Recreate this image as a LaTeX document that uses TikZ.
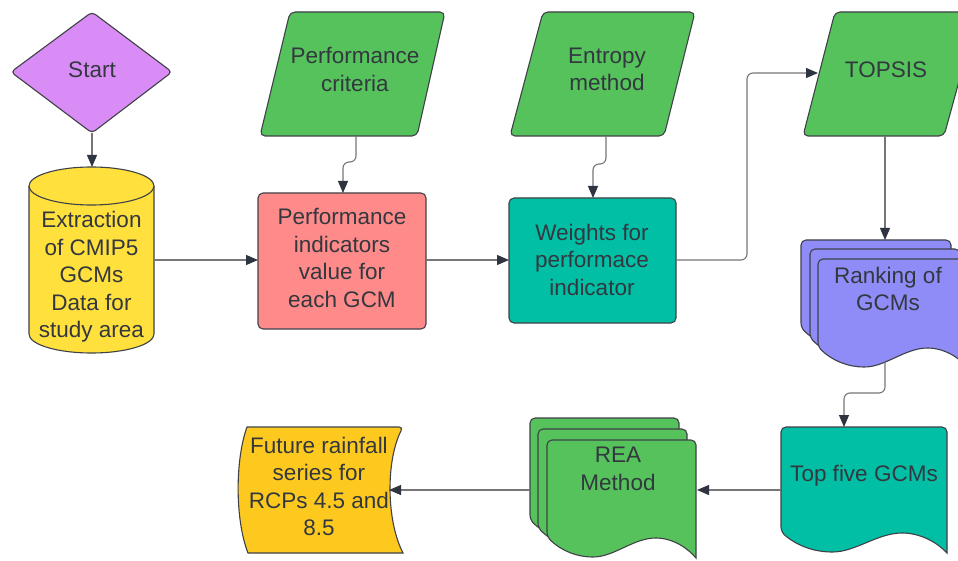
\documentclass[tikz,border=0pt]{standalone}
\usepackage{fontspec}
\setmainfont{Liberation Sans}
\usetikzlibrary{arrows.meta}
\definecolor{edgec}{HTML}{3F4148}
\definecolor{linec}{HTML}{767676}
\definecolor{tipc}{HTML}{2E3440}
\definecolor{txtc}{HTML}{33383F}
\definecolor{purp}{HTML}{DA8CF6}
\definecolor{yel}{HTML}{FFE03C}
\definecolor{pinkc}{HTML}{FF8A8A}
\definecolor{tealc}{HTML}{00BFA5}
\definecolor{grn}{HTML}{55C25C}
\definecolor{peri}{HTML}{8F8CF7}
\definecolor{gold}{HTML}{FEC91F}
% document shape: fill, x0, top, x1, left-bottom y
\newcommand{\docshape}[5]{%
\draw[shapeline, fill=#1, rounded corners=5pt] ({#4},{#5+21}) -- (#4,#3) -- (#2,#3) -- (#2,#5)
 [sharp corners] .. controls ({#2+0.1*(#4-#2)},{#5+14}) and ({#2+0.2*(#4-#2)},{#5+20}) .. ({#2+0.31*(#4-#2)},{#5+20})
 .. controls ({#2+0.45*(#4-#2)},{#5+20}) and ({#2+0.58*(#4-#2)},{#5+1}) .. ({#2+0.73*(#4-#2)},{#5+1})
 .. controls ({#2+0.85*(#4-#2)},{#5+1}) and ({#2+0.95*(#4-#2)},{#5+12}) .. ({#4},{#5+21}) -- cycle;}
\begin{document}
\begin{tikzpicture}[x=1pt,y=-1pt,
 shapeline/.style={draw=edgec, line width=1.1pt},
 txt/.style={text=txtc, font=\fontsize{22.5}{27.5}\selectfont, align=center, inner sep=0pt},
 conn/.style={draw=linec, line width=1.1pt, -{Triangle[length=12pt,width=10pt,color=tipc]}}]
\clip (0,0) rectangle (958,561);
\fill[white] (0,0) rectangle (958,561);

% Start diamond
\draw[shapeline, fill=purp, rounded corners=4pt] (92,12) -- (172,72) -- (92,133) -- (11,72) -- cycle;
\node[txt] (start) at (92,70) {Start};

% Cylinder
\draw[shapeline, fill=yel] (29,186) -- (29,334) .. controls (29,344.5) and (57,353) .. (91.5,353)
  .. controls (126,353) and (154,344.5) .. (154,334) -- (154,186);
\draw[shapeline, fill=yel] (91.5,186) ellipse [x radius=62.5, y radius=19];
\node[txt] (extract) at (91.5,277) {Extraction\\of CMIP5\\GCMs\\Data for\\study area};

% Performance criteria
\draw[shapeline, fill=grn, rounded corners=5pt] (290,12) -- (445,12) -- (417,136) -- (260,136) -- cycle;
\node[txt] (perfcrit) at (355,69.5) {Performance\\criteria};

% Pink box
\draw[shapeline, fill=pinkc, rounded corners=5pt] (258,193) rectangle (426,329);
\node[txt] (perfind) at (342,258) {Performance\\indicators\\value for\\each GCM};

% Entropy method
\draw[shapeline, fill=grn, rounded corners=5pt] (543,12) -- (695,12) -- (664,136) -- (510,136) -- cycle;
\node[txt] (entropy) at (607,69.5) {Entropy\\method};

% Teal box
\draw[shapeline, fill=tealc, rounded corners=5pt] (509,198) rectangle (676,323);
\node[txt] (weights) at (592,259.5) {Weights for\\performace\\indicator};

% TOPSIS
\draw[shapeline, fill=grn, rounded corners=5pt] (835,12) -- (978,12) -- (944,136) -- (803,136) -- cycle;
\node[txt] (topsis) at (886,70) {TOPSIS};

% Ranking stack
\docshape{peri}{801}{240}{951}{328}
\docshape{peri}{810}{249}{960}{338}
\docshape{peri}{818}{259}{968}{347}
\node[txt] (ranking) at (888,289) {Ranking of\\GCMs};

% Top five
\docshape{tealc}{781}{427}{947}{532}
\node[txt] (topfive) at (864,476) {Top five GCMs};

% REA stack
\docshape{grn}{530}{418}{679}{520}
\docshape{grn}{538}{429}{687}{528}
\docshape{grn}{547}{440}{696}{537}
\node[txt] (rea) at (618,469) {REA\\Method};

% Future rainfall
\draw[shapeline, fill=gold, rounded corners=4pt] (247,427) -- (403,427)
  [sharp corners] .. controls (386,460) and (386,520) .. (403,553) -- (248,553)
  .. controls (235,520) and (235,460) .. (247,427) -- cycle;
\node[txt] (future) at (319,486.5) {Future rainfall\\series for\\RCPs 4.5 and\\8.5};

% connection points
\coordinate (startS) at (92,133);
\coordinate (cylN) at (92,167);
\coordinate (cylE) at (154,260);
\coordinate (pinkW) at (258,260);
\coordinate (pinkE) at (426,260);
\coordinate (pinkN) at (343,193);
\coordinate (pcS) at (356,136);
\coordinate (emS) at (606,136);
\coordinate (tealN) at (593,198);
\coordinate (tealW) at (509,260);
\coordinate (tealE) at (676,260);
\coordinate (bendA) at (747,160);
\coordinate (topsisW) at (818,73);
\coordinate (topsisS) at (885,136);
\coordinate (rankN) at (885,240);
\coordinate (rankS) at (885,362);
\coordinate (topN) at (844,427);
\coordinate (topW) at (781,490);
\coordinate (reaE) at (697,490);
\coordinate (reaW) at (530,490);
\coordinate (futE) at (389,490);

% connectors
\draw[conn] (startS) -- (cylN);
\draw[conn] (cylE) -- (pinkW);
\draw[conn, rounded corners=6pt] (pcS) -- ++(0,26) -| (pinkN);
\draw[conn] (pinkE) -- (tealW);
\draw[conn, rounded corners=6pt] (emS) -- ++(0,28) -| (tealN);
\draw[conn, rounded corners=6pt] (tealE) -| (bendA) |- (topsisW);
\draw[conn] (topsisS) -- (rankN);
\draw[conn, rounded corners=6pt] (rankS) -- ++(0,31) -| (topN);
\draw[conn] (topW) -- (reaE);
\draw[conn] (reaW) -- (futE);
\end{tikzpicture}
\end{document}
